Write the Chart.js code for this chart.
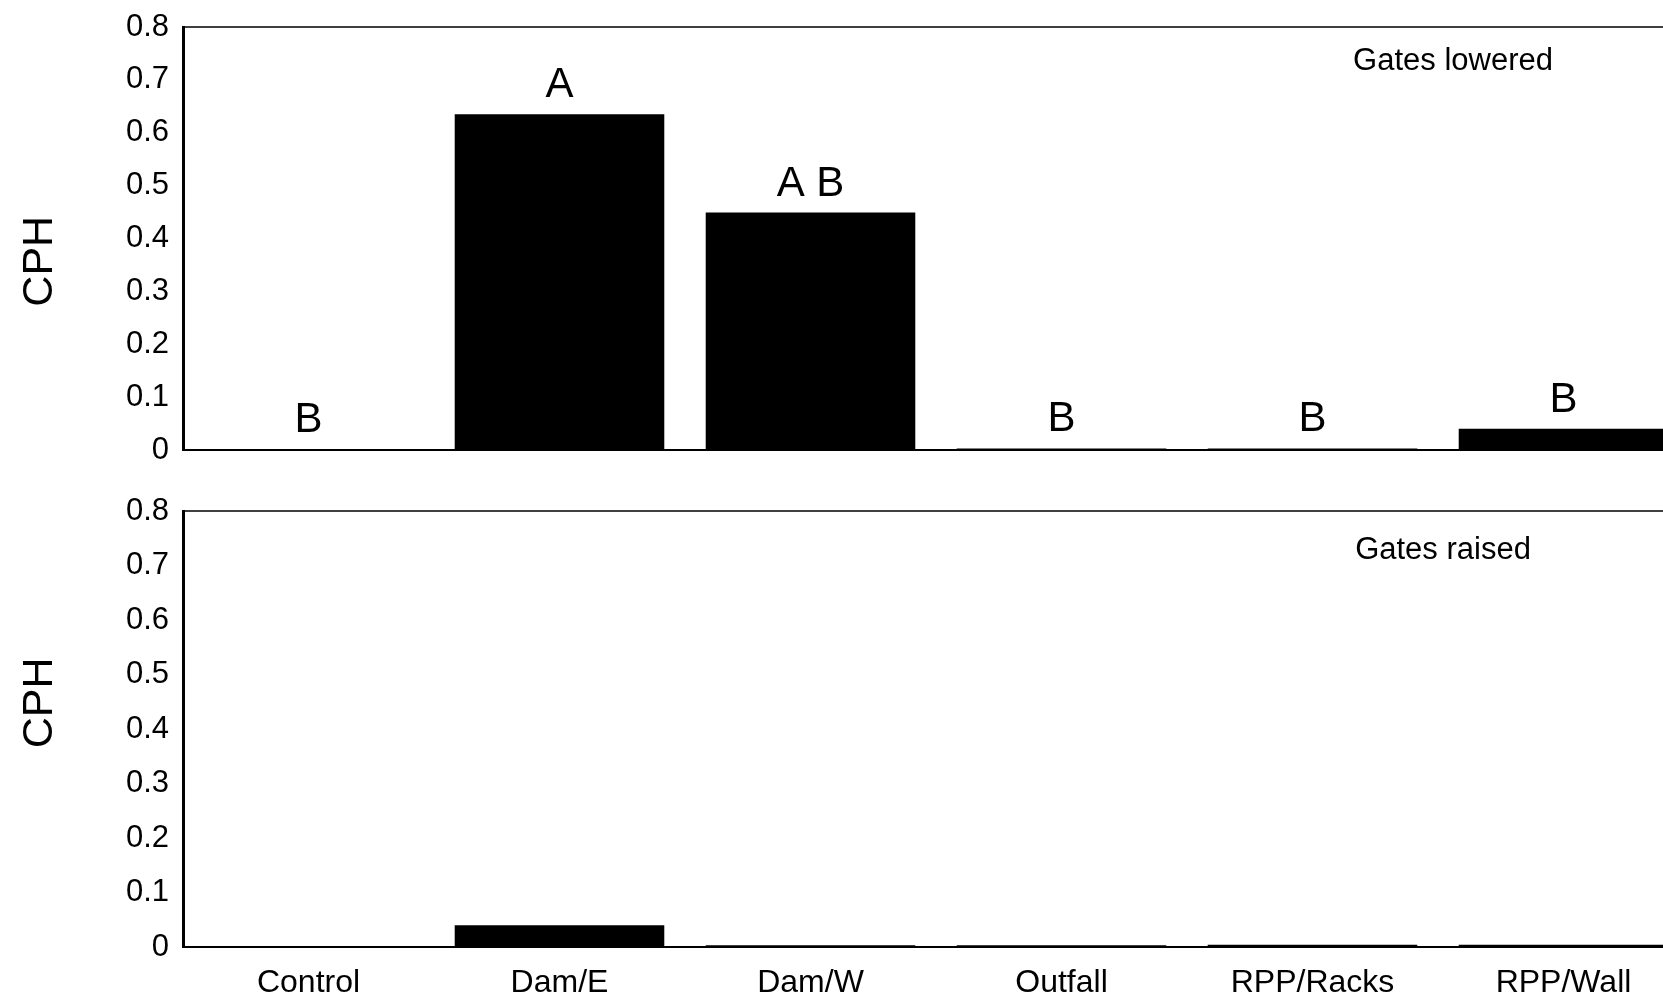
<!DOCTYPE html>
<html lang="en">
<head>
    <meta charset="UTF-8">
    <title>CPH by site</title>
    <style>
        body {
            margin: 0;
            background: #ffffff;
            font-family: "Liberation Sans", Arial, sans-serif;
        }
        .frame {
            position: relative;
            width: 1663px;
            height: 995px;
            overflow: hidden;
        }
        .panel {
            position: absolute;
            left: 0;
            width: 1700px;
        }
        #top { top: 0; height: 470px; }
        #bottom { top: 470px; height: 525px; }
    </style>
</head>
<body>
    <div class="frame">
        <div class="panel" id="top"><canvas id="lowered"></canvas></div>
        <div class="panel" id="bottom"><canvas id="raised"></canvas></div>
    </div>

    <script src="https://cdn.jsdelivr.net/npm/chart.js"></script>
    <script>
        const sites = ['Control', 'Dam/E', 'Dam/W', 'Outfall', 'RPP/Racks', 'RPP/Wall'];
        const yTicks = [0, 0.1, 0.2, 0.3, 0.4, 0.5, 0.6, 0.7, 0.8];

        // catch per hour, gates lowered
        const cphLowered = [0.002, 0.635, 0.449, 0.003, 0.003, 0.04];
        const groupLowered = ['B', 'A', 'A B', 'B', 'B', 'B'];

        // catch per hour, gates raised
        const cphRaised = [0.002, 0.04, 0.003, 0.003, 0.004, 0.004];

        const FONT = '"Liberation Sans", Arial, sans-serif';

        // top frame line, group letters, panel caption and the CPH title
        const extras = {
            id: 'extras',
            afterDraw(chart, args, opts) {
                const {ctx, chartArea} = chart;
                const xs = chart.scales.x;
                const ys = chart.scales.y;
                ctx.save();
                ctx.strokeStyle = '#000';
                ctx.lineWidth = 1.5;
                ctx.beginPath();
                ctx.moveTo(chartArea.left, chartArea.top);
                ctx.lineTo(chartArea.right, chartArea.top);
                ctx.stroke();

                ctx.fillStyle = '#000';
                if (opts.letters) {
                    ctx.font = '42px ' + FONT;
                    ctx.textAlign = 'center';
                    ctx.textBaseline = 'alphabetic';
                    chart.getDatasetMeta(0).data.forEach((bar, i) => {
                        ctx.fillText(opts.letters[i], bar.x, bar.y - 17);
                    });
                }
                ctx.font = '31px ' + FONT;
                ctx.textAlign = 'center';
                ctx.textBaseline = 'middle';
                ctx.fillText(opts.caption, xs.getPixelForValue(opts.capAt[0]), ys.getPixelForValue(opts.capAt[1]));

                // y title, rotated
                ctx.translate(40, ys.getPixelForValue(opts.titleAt));
                ctx.rotate(-Math.PI / 2);
                ctx.font = '43px ' + FONT;
                ctx.fillText('CPH', 0, 0);
                ctx.restore();
            }
        };

        function makeChart(id, values, showLabels, padTop, xHeight, caption, capAt, titleAt, letters) {
            return new Chart(document.getElementById(id), {
                type: 'bar',
                data: {
                    labels: sites,
                    datasets: [{
                        data: values,
                        backgroundColor: '#000',
                        borderWidth: 0,
                        barPercentage: 0.835,
                        categoryPercentage: 1
                    }]
                },
                options: {
                    responsive: true,
                    maintainAspectRatio: false,
                    animation: false,
                    layout: { padding: { top: padTop, right: 11, left: 0, bottom: 0 } },
                    plugins: {
                        legend: { display: false },
                        tooltip: { enabled: false },
                        extras: { caption: caption, capAt: capAt, titleAt: titleAt, letters: letters }
                    },
                    scales: {
                        x: {
                            grid: { display: false, drawTicks: false },
                            border: { display: true, color: '#000', width: 2 },
                            ticks: {
                                display: showLabels,
                                color: '#000',
                                padding: 17,
                                maxRotation: 0,
                                font: { family: FONT, size: 32 }
                            },
                            afterFit: s => { s.height = xHeight; }
                        },
                        y: {
                            min: 0,
                            max: 0.8,
                            afterBuildTicks: s => { s.ticks = yTicks.map(v => ({ value: v })); },
                            grid: { display: false, drawTicks: false },
                            border: { display: true, color: '#000', width: 3 },
                            ticks: {
                                color: '#000',
                                padding: 14,
                                font: { family: FONT, size: 31 },
                                callback: v => String(Math.round(v * 10) / 10)
                            },
                            afterFit: s => {
                                s.width = 183;
                                s.paddingTop = 0;
                                s.paddingBottom = 0;
                            }
                        }
                    }
                },
                plugins: [extras]
            });
        }

        makeChart('lowered', cphLowered, false, 27, 20, 'Gates lowered', [4.56, 0.735], 0.357, groupLowered);
        makeChart('raised', cphRaised, true, 41, 48, 'Gates raised', [4.52, 0.728], 0.448, null);
    </script>
</body>
</html>
